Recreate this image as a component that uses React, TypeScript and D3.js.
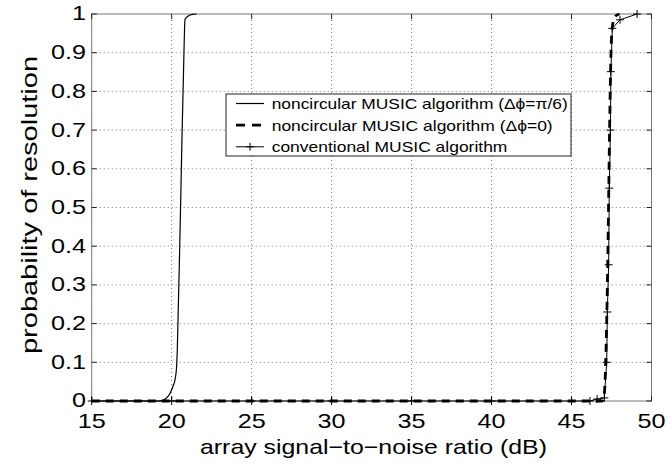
import React from 'react';
import * as d3 from 'd3';

const W = 668;
const H = 464;

// noncircular MUSIC (Δφ=π/6)
const snrNcPi6 = [15, 19.27, 19.6, 19.9, 20.1, 20.21, 20.31, 20.35, 20.57, 20.79, 20.83, 20.9, 21.04, 21.3, 21.56];
const probNcPi6 = [0, 0, 0.005, 0.02, 0.04, 0.055, 0.09, 0.13, 0.53, 0.94, 0.985, 0.99, 0.995, 0.999, 1.0];

// noncircular MUSIC (Δφ=0)
const snrNc0 = [15, 46.9, 47.05, 47.15, 47.22, 47.28, 47.33, 47.38, 47.44, 47.5, 47.6, 47.75, 48.0];
const probNc0 = [0, 0, 0.02, 0.12, 0.25, 0.4, 0.55, 0.7, 0.85, 0.94, 0.98, 0.995, 1.0];

// conventional MUSIC
const snrConv = [15, 20, 25, 30, 35, 40, 45, 46.15, 46.6, 47.05, 47.2, 47.24, 47.32, 47.36, 47.43, 47.46, 47.55, 48.03, 49.1];
const probConv = [0, 0, 0, 0, 0, 0, 0, 0, 0.005, 0.008, 0.1, 0.23, 0.352, 0.55, 0.7, 0.851, 0.963, 0.985, 1.0];

const xTicks = [15, 20, 25, 30, 35, 40, 45, 50];
const yTicks = [0, 0.1, 0.2, 0.3, 0.4, 0.5, 0.6, 0.7, 0.8, 0.9, 1];
const yTickLabels = ['0', '0.1', '0.2', '0.3', '0.4', '0.5', '0.6', '0.7', '0.8', '0.9', '1'];
const legendLabels = [
  'noncircular MUSIC algorithm (\u0394\u03d5=\u03c0/6)',
  'noncircular MUSIC algorithm (\u0394\u03d5=0)',
  'conventional MUSIC algorithm',
];
const xLabel = 'array signal\u2212to\u2212noise ratio (dB)';
const yLabel = 'probability of resolution';

const FONT = '"Liberation Sans", Arial, Helvetica, sans-serif';
const SX = 1.26;

export default function App() {
  const x = d3.scaleLinear().domain([15, 50]).range([91.7, 651.5]);
  const y = d3.scaleLinear().domain([0, 1]).range([401, 14]);
  const [x0, x1] = x.range();
  const [y0, y1] = y.range();

  const zip = (a: number[], b: number[]) => a.map((v, i) => [v, b[i]] as [number, number]);
  const lineSmooth = d3.line<[number, number]>().x(d => x(d[0])).y(d => y(d[1])).curve(d3.curveMonotoneX);
  const lineLin = d3.line<[number, number]>().x(d => x(d[0])).y(d => y(d[1]));

  const dPi6 = lineSmooth(zip(snrNcPi6, probNcPi6)) || '';
  const d0 = lineSmooth(zip(snrNc0, probNc0)) || '';
  const conv = zip(snrConv, probConv);
  const dConv = lineLin(conv) || '';

  const plus = (cx: number, cy: number, k: string) => (
    <path key={k} d={`M${cx - 4},${cy}H${cx + 4}M${cx},${cy - 4}V${cy + 4}`} stroke="#000" strokeWidth={1} fill="none" />
  );

  const legX0 = 226, legX1 = 571, legY0 = 94, legY1 = 156;
  const rowY = [103.5, 125.2, 146.8];
  const sampleX0 = 236, sampleX1 = 264;
  const legendText = [296, 281, 235.7];

  return (
    <div style={{ position: 'absolute', left: 0, top: 0 }}>
      <svg width={W} height={H} style={{ display: 'block', background: '#fff' }} fontFamily={FONT}>
        <rect x={0} y={0} width={W} height={H} fill="#fff" />
        {/* grid */}
        {xTicks.slice(1, -1).map(t => (
          <line key={'gx' + t} x1={x(t)} x2={x(t)} y1={y0} y2={y1} stroke="#555" strokeWidth={0.8} strokeDasharray="1,3" />
        ))}
        {yTicks.slice(1, -1).map(t => (
          <line key={'gy' + t} x1={x0} x2={x1} y1={y(t)} y2={y(t)} stroke="#555" strokeWidth={0.8} strokeDasharray="1,3" />
        ))}
        {/* frame */}
        <rect x={x0} y={y1} width={x1 - x0} height={y0 - y1} fill="none" stroke="#777" strokeWidth={1} />
        {/* ticks */}
        {xTicks.map(t => (
          <g key={'tx' + t}>
            <line x1={x(t)} x2={x(t)} y1={y0} y2={y0 - 5} stroke="#222" />
            <line x1={x(t)} x2={x(t)} y1={y1} y2={y1 + 5} stroke="#222" />
          </g>
        ))}
        {yTicks.map(t => (
          <g key={'ty' + t}>
            <line x1={x0} x2={x0 + 5} y1={y(t)} y2={y(t)} stroke="#222" />
            <line x1={x1} x2={x1 - 5} y1={y(t)} y2={y(t)} stroke="#222" />
          </g>
        ))}
        {/* tick labels */}
        {xTicks.map(t => (
          <text key={'lx' + t} transform={`translate(${x(t)},427.5) scale(${SX},1)`} textAnchor="middle" fontSize={20} fill="#000">
            {String(t)}
          </text>
        ))}
        {yTicks.map((t, i) => (
          <text key={'ly' + t} transform={`translate(86,${y(t) + 6.4}) scale(${SX},1)`} textAnchor="end" fontSize={20} fill="#000">
            {yTickLabels[i]}
          </text>
        ))}
        {/* axis titles */}
        <text x={373.5} y={454} textAnchor="middle" fontSize={21} textLength={347} lengthAdjust="spacingAndGlyphs" fill="#000">
          {xLabel}
        </text>
        <text transform={`translate(37,205) scale(1.12,1) rotate(-90)`} textAnchor="middle" fontSize={20} textLength={298} lengthAdjust="spacingAndGlyphs" fill="#000">
          {yLabel}
        </text>
        {/* curves */}
        <path d={dPi6} fill="none" stroke="#000" strokeWidth={1.2} />
        <path d={d0} fill="none" stroke="#000" strokeWidth={2.8} strokeDasharray="8,6" />
        <path d={dConv} fill="none" stroke="#000" strokeWidth={1} />
        {conv.map((p, i) => plus(x(p[0]), y(p[1]), 'm' + i))}
        {/* legend */}
        <rect x={legX0} y={legY0} width={legX1 - legX0} height={legY1 - legY0} fill="#fff" stroke="#222" strokeWidth={1} />
        <line x1={sampleX0} x2={sampleX1} y1={rowY[0]} y2={rowY[0]} stroke="#000" strokeWidth={1.2} />
        <line x1={sampleX0} x2={sampleX1} y1={rowY[1]} y2={rowY[1]} stroke="#000" strokeWidth={2.8} strokeDasharray="9,7" />
        <line x1={sampleX0} x2={sampleX1} y1={rowY[2]} y2={rowY[2]} stroke="#000" strokeWidth={1} />
        {plus((sampleX0 + sampleX1) / 2, rowY[2], 'legm')}
        {legendLabels.map((s, i) => (
          <text key={'leg' + i} x={271.7} y={rowY[i] + 5.5} fontSize={14.5} textLength={legendText[i]} lengthAdjust="spacingAndGlyphs" fill="#000">
            {s}
          </text>
        ))}
      </svg>
    </div>
  );
}
